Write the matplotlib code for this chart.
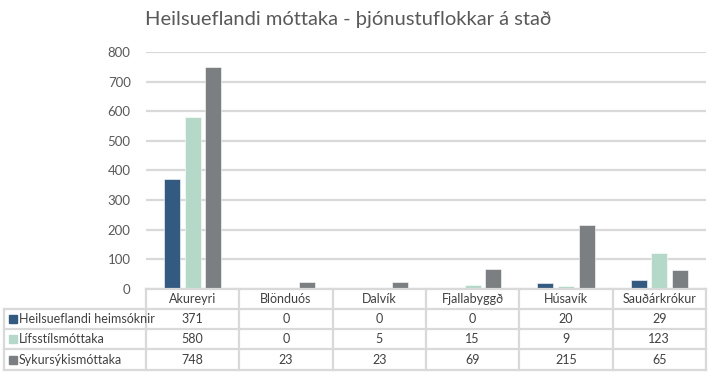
import numpy as np
import matplotlib.pyplot as plt
from matplotlib.patches import Rectangle

plt.rcParams['font.family'] = ['Lato', 'DejaVu Sans']

###############################################################################
# DATA
categories = ['Akureyri', 'Blönduós', 'Dalvík', 'Fjallabyggð', 'Húsavík', 'Sauðárkrókur']
series_names = ['Heilsueflandi heimsóknir', 'Lífsstílsmóttaka', 'Sykursýkismóttaka']
heimsoknir = [371, 0, 0, 0, 20, 29]
lifsstil = [580, 0, 5, 15, 9, 123]
sykursyki = [748, 23, 23, 69, 215, 65]
yticks = [0, 100, 200, 300, 400, 500, 600, 700, 800]
title = 'Heilsueflandi móttaka - þjónustuflokkar á stað'

colors = ['#335A80', '#B4D9C8', '#7B7F82']
grid_c = '#D9D9D9'
txt_c = '#595959'

###############################################################################
W, H = 712, 376
fig = plt.figure(figsize=(W / 100, H / 100), dpi=100)

# plot area in pixels
left, right, top, bottom = 146, 706, 52, 289
ax = fig.add_axes([left / W, 1 - bottom / H, (right - left) / W, (bottom - top) / H])

x = np.arange(len(categories))
width = 0.17
offsets = [-0.222, 0, 0.222]
for vals, off, c in zip([heimsoknir, lifsstil, sykursyki], offsets, colors):
     ax.bar(x + off, vals, width=width, color=c, edgecolor='white', linewidth=0.4, zorder=3)

ax.set_xlim(-0.5, len(categories) - 0.5)
ax.set_ylim(0, 800)
ax.set_yticks(yticks)
ax.set_xticks([])
ax.yaxis.grid(True, color=grid_c, linewidth=1.6, zorder=0)
for s in ax.spines.values():
     s.set_visible(False)
ax.tick_params(axis='y', length=0, labelsize=9.5, labelcolor=txt_c, pad=11)

fig.text(348 / W, 1 - 20 / H, title, ha='center', va='center', fontsize=14.5, color=txt_c)

###############################################################################
# data table drawn in pixel coordinates
tax = fig.add_axes([0, 0, 1, 1])
tax.set_xlim(0, W)
tax.set_ylim(H, 0)
tax.axis('off')
tax.patch.set_visible(False)

tleft = 4
rows_y = [289, 309, 329, 349, 370]
colw = (right - left) / len(categories)
lw = 1.6

tax.plot([left, right], [rows_y[0], rows_y[0]], color=grid_c, lw=lw)
for yy in rows_y[1:]:
     tax.plot([tleft, right], [yy, yy], color=grid_c, lw=lw)
tax.plot([tleft, tleft], [rows_y[1], rows_y[-1]], color=grid_c, lw=lw)
for k in range(len(categories) + 1):
     xx = left + k * colw
     tax.plot([xx, xx], [rows_y[0], rows_y[-1]], color=grid_c, lw=lw)

for k, cat in enumerate(categories):
     tax.text(left + (k + 0.5) * colw, (rows_y[0] + rows_y[1]) / 2, cat,
              ha='center', va='center', fontsize=9, color='#404040')

for r, (name, vals, c) in enumerate(zip(series_names, [heimsoknir, lifsstil, sykursyki], colors)):
     yc = (rows_y[r + 1] + rows_y[r + 2]) / 2
     tax.add_patch(Rectangle((9, yc - 4), 8, 8, color=c))
     tax.text(19, yc, name, ha='left', va='center', fontsize=9, color='#404040')
     for k, v in enumerate(vals):
          tax.text(left + (k + 0.5) * colw, yc, str(v), ha='center', va='center',
                   fontsize=9, color='#404040')

fig.savefig('out.png', dpi=100)
